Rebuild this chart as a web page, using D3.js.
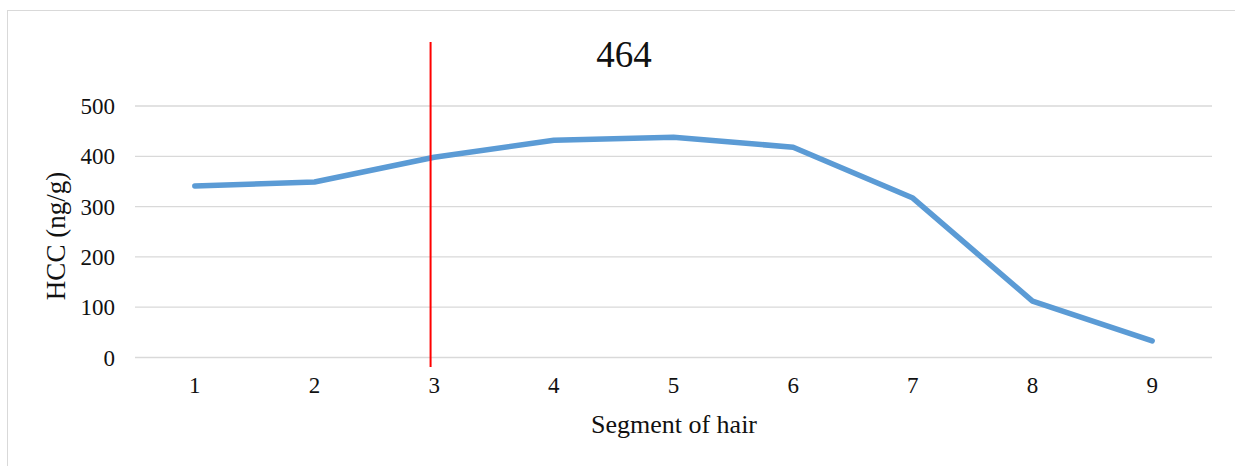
<!DOCTYPE html>
<html>
<head>
<meta charset="utf-8">
<script src="https://cdn.jsdelivr.net/npm/d3@7"></script>
<style>
  html, body { margin: 0; padding: 0; background: #fff; }
  svg { display: block; font-family: "Liberation Serif", "Times New Roman", serif; }
</style>
</head>
<body>
<svg id="chart" width="1235" height="466"></svg>
<script>
// Hair segments and cortisol concentration per segment
const segments = [1, 2, 3, 4, 5, 6, 7, 8, 9];
const hcc = [341, 349, 398, 432, 438, 418, 317, 112, 33];
const yTicks = [0, 100, 200, 300, 400, 500];
const title = "464";
const markerSegment = 2.97;

const W = 1235, H = 466;
const margin = { left: 135, right: 23, top: 106, bottom: 108 };
const svg = d3.select("#chart");

// outer chart frame
svg.append("rect")
  .attr("x", 7.5).attr("y", 10.5)
  .attr("width", 1240).attr("height", 470)
  .attr("fill", "#fff").attr("stroke", "#d9d9d9").attr("stroke-width", 1);

const x = d3.scaleBand().domain(segments).range([margin.left, W - margin.right]);
const y = d3.scaleLinear().domain([0, 500]).range([357.5, 106]);
const xc = d => x(d) + x.bandwidth() / 2;
const xLin = d3.scaleLinear().domain([1, 9]).range([xc(1), xc(9)]);

// horizontal gridlines
svg.append("g").selectAll("line").data(yTicks).join("line")
  .attr("x1", margin.left).attr("x2", W - margin.right)
  .attr("y1", d => y(d)).attr("y2", d => y(d))
  .attr("stroke", "#d9d9d9").attr("stroke-width", 1.3);

// y tick labels
svg.append("g").selectAll("text").data(yTicks).join("text")
  .attr("x", 115).attr("y", d => y(d)).attr("dy", "0.35em")
  .attr("text-anchor", "end").attr("font-size", 23).attr("fill", "#111")
  .text(d => d);

// x tick labels
svg.append("g").selectAll("text").data(segments).join("text")
  .attr("x", d => xc(d)).attr("y", 393)
  .attr("text-anchor", "middle").attr("font-size", 23).attr("fill", "#111")
  .text(d => d);

// series line
const line = d3.line().x((d, i) => xc(segments[i])).y(d => y(d));
svg.append("path").datum(hcc)
  .attr("d", line).attr("fill", "none")
  .attr("stroke", "#5B9BD5").attr("stroke-width", 5.5)
  .attr("stroke-linecap", "round").attr("stroke-linejoin", "round");

// vertical marker
svg.append("line")
  .attr("x1", xLin(markerSegment)).attr("x2", xLin(markerSegment))
  .attr("y1", 42).attr("y2", 367)
  .attr("stroke", "#ff0000").attr("stroke-width", 2);

// title
svg.append("text")
  .attr("x", 624).attr("y", 67).attr("text-anchor", "middle")
  .attr("font-size", 37).attr("fill", "#111").text(title);

// axis titles
svg.append("text")
  .attr("x", 674).attr("y", 433).attr("text-anchor", "middle")
  .attr("font-size", 26).attr("fill", "#111").text("Segment of hair");

svg.append("text")
  .attr("transform", "translate(65,236) rotate(-90)")
  .attr("text-anchor", "middle")
  .attr("font-size", 27).attr("fill", "#111").text("HCC (ng/g)");
</script>
</body>
</html>
